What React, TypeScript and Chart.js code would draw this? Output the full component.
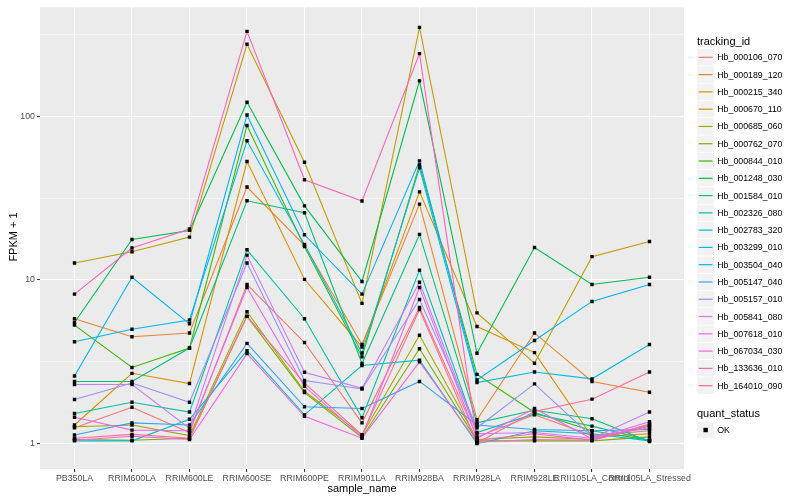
import React, { useEffect, useRef } from "react";
import { Chart, registerables } from "chart.js";

Chart.register(...registerables);

const FONT = '"Liberation Sans", Arial, Helvetica, sans-serif';

const categories = [
  "PB350LA",
  "RRIM600LA",
  "RRIM600LE",
  "RRIM600SE",
  "RRIM600PE",
  "RRIM901LA",
  "RRIM928BA",
  "RRIM928LA",
  "RRIM928LE",
  "RRII105LA_Control",
  "RRII105LA_Stressed",
];

const seriesNames = [
  "Hb_000106_070",
  "Hb_000189_120",
  "Hb_000215_340",
  "Hb_000670_110",
  "Hb_000685_060",
  "Hb_000762_070",
  "Hb_000844_010",
  "Hb_001248_030",
  "Hb_001584_010",
  "Hb_002326_080",
  "Hb_002783_320",
  "Hb_003299_010",
  "Hb_003504_040",
  "Hb_005147_040",
  "Hb_005157_010",
  "Hb_005841_080",
  "Hb_007618_010",
  "Hb_067034_030",
  "Hb_133636_010",
  "Hb_164010_090",
];

const hb000106_070 = [1.25, 1.67, 1.17, 9.4, 4.15, 1.34, 6.8, 1.1, 1.5, 1.12, 1.2];
const hb000189_120 = [5.8, 4.5, 4.75, 37, 16.3, 4.04, 29.1, 1.4, 4.75, 2.4, 2.06];
const hb000215_340 = [1.3, 2.69, 2.33, 53, 10.1, 3.9, 34.6, 5.2, 3.6, 1.1, 1.15];
const hb000670_110 = [12.7, 14.9, 18.3, 276, 52.5, 7.2, 350, 6.3, 3.1, 13.9, 17.2];
const hb000685_060 = [1.27, 1.3, 1.12, 6.4, 2.09, 1.13, 4.6, 1.06, 1.1, 1.06, 1.3];
const hb000762_070 = [1.06, 1.05, 1.08, 6.0, 2.05, 1.09, 3.8, 1.04, 1.04, 1.04, 1.1];
const hb000844_010 = [5.3, 2.92, 3.84, 88, 16, 3.39, 50.5, 2.65, 1.55, 1.2, 1.05];
const hb001248_030 = [5.5, 17.7, 20.1, 122, 28.4, 9.8, 165, 3.57, 15.8, 9.4, 10.4];
const hb001584_010 = [2.4, 2.4, 3.84, 30.5, 25.8, 3.09, 19.0, 1.34, 1.6, 1.42, 1.03];
const hb002326_080 = [1.53, 1.79, 1.56, 15.3, 5.8, 1.44, 11.5, 1.17, 1.52, 1.28, 1.05];
const hb002783_320 = [1.04, 1.04, 1.41, 3.7, 1.5, 3.0, 3.24, 1.0, 1.2, 1.15, 1.04];
const hb003299_010 = [4.2, 5.0, 5.7, 71, 16.5, 3.58, 48.5, 2.36, 2.74, 2.49, 4.04];
const hb003504_040 = [2.59, 10.4, 5.4, 102, 18.9, 8.2, 53.5, 2.45, 4.27, 7.4, 9.4];
const hb005147_040 = [1.13, 1.34, 1.3, 4.1, 1.68, 1.64, 2.4, 1.3, 1.22, 1.2, 1.22];
const hb005157_010 = [1.86, 2.35, 1.79, 12.7, 2.43, 2.16, 7.6, 1.25, 2.32, 1.1, 1.25];
const hb005841_080 = [2.3, 2.3, 1.24, 14.2, 2.73, 2.18, 9.7, 1.15, 1.17, 1.08, 1.56];
const hb007618_010 = [1.45, 1.21, 1.2, 9.0, 2.24, 1.1, 9.0, 1.08, 1.64, 1.07, 1.36];
const hb067034_030 = [1.05, 1.11, 1.06, 3.55, 1.47, 1.08, 3.16, 1.02, 1.06, 1.05, 1.32];
const hb133636_010 = [8.2, 15.7, 20.5, 331, 41, 30.4, 242, 1.05, 1.15, 1.05, 1.28];
const hb164010_090 = [1.08, 1.14, 1.08, 6.0, 2.34, 1.13, 6.6, 1.01, 1.57, 1.87, 2.74];

const seriesValues = [
  hb000106_070,
  hb000189_120,
  hb000215_340,
  hb000670_110,
  hb000685_060,
  hb000762_070,
  hb000844_010,
  hb001248_030,
  hb001584_010,
  hb002326_080,
  hb002783_320,
  hb003299_010,
  hb003504_040,
  hb005147_040,
  hb005157_010,
  hb005841_080,
  hb007618_010,
  hb067034_030,
  hb133636_010,
  hb164010_090,
];

const yMajorTicks = [1, 10, 100];
const yMinorTicks = [Math.pow(10, 0.5), Math.pow(10, 1.5), Math.pow(10, 2.5)];
const statusLabels = ["OK"];

// ggplot2 hue palette (HCL, l=65, c=100)
function hcl(h: number, c: number, l: number): string {
  const d2r = Math.PI / 180;
  const U = c * Math.cos(h * d2r);
  const V = c * Math.sin(h * d2r);
  const Xn = 95.047, Yn = 100, Zn = 108.883;
  const Y = l > 8 ? Yn * Math.pow((l + 16) / 116, 3) : (Yn * l) / 903.3;
  const den = Xn + 15 * Yn + 3 * Zn;
  const un = (4 * Xn) / den, vn = (9 * Yn) / den;
  const u = U / (13 * l) + un;
  const v = V / (13 * l) + vn;
  const X = (9 * Y * u) / (4 * v);
  const Z = (Y * (12 - 3 * u - 20 * v)) / (4 * v);
  const x = X / 100, y = Y / 100, z = Z / 100;
  const lin = [
    3.240479 * x - 1.53715 * y - 0.498535 * z,
    -0.969256 * x + 1.875992 * y + 0.041556 * z,
    0.055648 * x - 0.204043 * y + 1.057311 * z,
  ];
  const hex = lin
    .map((t) => {
      let s = t <= 0.0031308 ? 12.92 * t : 1.055 * Math.pow(t, 1 / 2.4) - 0.055;
      s = Math.max(0, Math.min(1, s));
      return Math.round(s * 255).toString(16).padStart(2, "0");
    })
    .join("");
  return "#" + hex;
}

function huePal(n: number): string[] {
  const out: string[] = [];
  for (let i = 0; i < n; i++) out.push(hcl(15 + (360 / n) * i, 100, 65));
  return out;
}

const colors = huePal(seriesNames.length);

const textBase: React.CSSProperties = {
  position: "absolute",
  color: "#000",
  whiteSpace: "nowrap",
  fontWeight: 400,
  fontFamily: FONT,
};

export default function App() {
  const ref = useRef<HTMLCanvasElement>(null);

  useEffect(() => {
    const canvas = ref.current;
    if (!canvas) return;

    const lineSets = seriesValues.map((vals, i) => ({
      label: seriesNames[i],
      data: vals.map((v, j) => ({ x: j, y: v })),
      borderColor: colors[i],
      backgroundColor: colors[i],
      borderWidth: 1.07,
      pointRadius: 0,
      pointHoverRadius: 0,
      fill: false,
      tension: 0,
      order: 100 - i,
    }));

    const pointSets = seriesValues.map((vals, i) => ({
      label: seriesNames[i] + " points",
      data: vals.map((v, j) => ({ x: j, y: v })),
      showLine: false,
      pointStyle: "rect" as const,
      pointRadius: 2.4,
      pointHoverRadius: 2.4,
      pointBackgroundColor: "#000000",
      pointBorderColor: "#000000",
      pointBorderWidth: 0,
      borderColor: "#000000",
      backgroundColor: "#000000",
      order: 0,
    }));

    const panelBg = {
      id: "panelBg",
      beforeDraw(chart: any) {
        const { ctx, chartArea: a } = chart;
        ctx.save();
        ctx.fillStyle = "#EBEBEB";
        ctx.fillRect(a.left, a.top, a.right - a.left, a.bottom - a.top);
        ctx.restore();
      },
    };

    const isMajor = (ctx: any) =>
      ctx && ctx.tick && yMajorTicks.some((m) => Math.abs(m - ctx.tick.value) < 1e-6);

    const chart = new Chart(canvas, {
      type: "line",
      data: { datasets: [...lineSets, ...pointSets] as any },
      options: {
        animation: false,
        responsive: false,
        maintainAspectRatio: false,
        layout: { padding: { top: 5, right: 116, left: 0, bottom: 0 } },
        plugins: {
          legend: { display: false },
          tooltip: { enabled: false },
        },
        scales: {
          x: {
            type: "linear",
            min: -0.6,
            max: categories.length - 1 + 0.6,
            afterBuildTicks: (axis: any) => {
              axis.ticks = categories.map((_, i) => ({ value: i }));
            },
            afterFit: (axis: any) => {
              axis.height = 31;
            },
            ticks: {
              autoSkip: false,
              maxRotation: 0,
              minRotation: 0,
              padding: 1,
              color: "#4D4D4D",
              font: { family: FONT, size: 8.8 },
              callback: (v: any) => categories[Math.round(Number(v))] ?? "",
            },
            grid: {
              color: "#FFFFFF",
              lineWidth: 1.07,
              tickColor: "#333333",
              tickLength: 3,
              drawOnChartArea: true,
            },
            border: { display: false },
          },
          y: {
            type: "logarithmic",
            min: Math.pow(10, -0.1284),
            max: Math.pow(10, 2.667),
            afterBuildTicks: (axis: any) => {
              axis.ticks = [...yMajorTicks, ...yMinorTicks]
                .sort((a, b) => a - b)
                .map((v) => ({ value: v }));
            },
            afterFit: (axis: any) => {
              axis.width = 40;
            },
            ticks: {
              padding: 2,
              color: "#4D4D4D",
              font: { family: FONT, size: 8.8 },
              callback: (v: any) => {
                const n = Number(v);
                const m = yMajorTicks.find((t) => Math.abs(t - n) < 1e-6);
                return m !== undefined ? String(m) : "";
              },
            },
            grid: {
              color: "#FFFFFF",
              lineWidth: (ctx: any) => (isMajor(ctx) ? 1.07 : 0.53),
              tickColor: (ctx: any) => (isMajor(ctx) ? "#333333" : "rgba(0,0,0,0)"),
              tickLength: 3,
            },
            border: { display: false },
          },
        },
      } as any,
      plugins: [panelBg],
    });

    return () => chart.destroy();
  }, []);

  const legendLeft = 697;
  const keySize = 17.28;
  const firstKeyTop = 48.7;
  const statusKeyTop = 421.4;

  return (
    <div
      style={{
        position: "fixed",
        left: 0,
        top: 0,
        width: 800,
        height: 500,
        background: "#FFFFFF",
        fontFamily: FONT,
        overflow: "hidden",
      }}
    >
      <canvas
        ref={ref}
        width={800}
        height={500}
        style={{ position: "absolute", left: 0, top: 0, width: 800, height: 500 }}
      />

      {/* legend keys drawn in SVG */}
      <svg
        width={800}
        height={500}
        style={{ position: "absolute", left: 0, top: 0, pointerEvents: "none" }}
      >
        {seriesNames.map((name, i) => {
          const top = firstKeyTop + i * keySize;
          return (
            <g key={name}>
              <rect
                x={legendLeft}
                y={top}
                width={keySize}
                height={keySize}
                fill="#F2F2F2"
                stroke="#FFFFFF"
                strokeWidth={0.6}
              />
              <line
                x1={legendLeft + 1.7}
                x2={legendLeft + keySize - 1.7}
                y1={top + keySize / 2}
                y2={top + keySize / 2}
                stroke={colors[i]}
                strokeWidth={1.2}
              />
            </g>
          );
        })}
        {statusLabels.map((s, i) => {
          const top = statusKeyTop + i * keySize;
          return (
            <g key={s}>
              <rect
                x={legendLeft}
                y={top}
                width={keySize}
                height={keySize}
                fill="#F2F2F2"
                stroke="#FFFFFF"
                strokeWidth={0.6}
              />
              <rect
                x={legendLeft + keySize / 2 - 2.2}
                y={top + keySize / 2 - 2.2}
                width={4.4}
                height={4.4}
                fill="#000000"
              />
            </g>
          );
        })}
      </svg>

      {/* y axis title */}
      <div
        style={{
          ...textBase,
          left: 13,
          top: 237,
          transform: "translate(-50%, -50%) rotate(-90deg)",
          fontSize: 11,
          lineHeight: "11px",
        }}
      >
        FPKM + 1
      </div>

      {/* x axis title */}
      <div
        style={{
          ...textBase,
          left: 362,
          top: 488,
          transform: "translate(-50%, -50%)",
          fontSize: 11,
          lineHeight: "11px",
        }}
      >
        sample_name
      </div>

      {/* legend: tracking_id */}
      <div
        style={{
          ...textBase,
          left: legendLeft,
          top: 40.7,
          transform: "translateY(-50%)",
          fontSize: 11,
          lineHeight: "11px",
        }}
      >
        tracking_id
      </div>
      {seriesNames.map((name, i) => {
        const top = firstKeyTop + i * keySize;
        return (
          <div
            key={name}
            style={{
              ...textBase,
              left: legendLeft + keySize + 3,
              top: top + keySize / 2,
              transform: "translateY(-50%)",
              fontSize: 8.8,
              lineHeight: "9px",
            }}
          >
            {name}
          </div>
        );
      })}

      {/* legend: quant_status */}
      <div
        style={{
          ...textBase,
          left: legendLeft,
          top: 413,
          transform: "translateY(-50%)",
          fontSize: 11,
          lineHeight: "11px",
        }}
      >
        quant_status
      </div>
      {statusLabels.map((s, i) => {
        const top = statusKeyTop + i * keySize;
        return (
          <div
            key={s}
            style={{
              ...textBase,
              left: legendLeft + keySize + 3,
              top: top + keySize / 2,
              transform: "translateY(-50%)",
              fontSize: 8.8,
              lineHeight: "9px",
            }}
          >
            {s}
          </div>
        );
      })}
    </div>
  );
}
